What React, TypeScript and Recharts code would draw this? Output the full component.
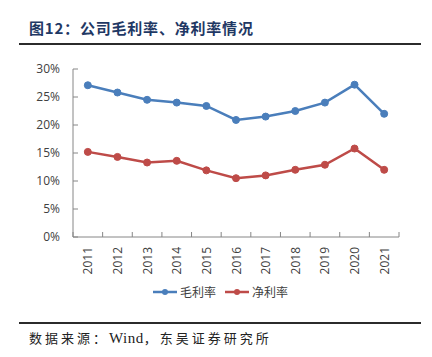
import React from "react";
import { LineChart, Line, XAxis, YAxis } from "recharts";

const years = ["2011", "2012", "2013", "2014", "2015", "2016", "2017", "2018", "2019", "2020", "2021"];
const grossMargin = [27.1, 25.8, 24.5, 24.0, 23.4, 20.9, 21.5, 22.5, 24.0, 27.2, 22.0];
const netMargin = [15.2, 14.3, 13.3, 13.6, 11.9, 10.5, 11.0, 12.0, 12.9, 15.8, 12.0];
const yTicks = [0, 5, 10, 15, 20, 25, 30];
const seriesNames = ["毛利率", "净利率"];
const seriesColors = ["#4A7EBB", "#BE4B48"];

const data = years.map((y, i) => ({ year: y, gross: grossMargin[i], net: netMargin[i] }));

const W = 432;
const H = 357;
const PLOT_LEFT = 73;
const PLOT_RIGHT = 33;
const BAND = (W - PLOT_LEFT - PLOT_RIGHT) / years.length;
const AXIS_COLOR = "#868686";
const TEXT_COLOR = "#404040";
const FONT = "'Open Sans', 'Noto Sans CJK SC', sans-serif";

const XTick = (props: any) => {
  const { x, y, payload, index } = props;
  const half = BAND / 2;
  return (
    <g>
      <line x1={x - half} x2={x - half} y1={y} y2={y - 5} stroke={AXIS_COLOR} strokeWidth={1} />
      {index === years.length - 1 && (
        <line x1={x + half} x2={x + half} y1={y} y2={y - 5} stroke={AXIS_COLOR} strokeWidth={1} />
      )}
      <text
        x={0}
        y={0}
        transform={`translate(${x + 4.5},${y + 10}) rotate(-90)`}
        textAnchor="end"
        fontSize={12}
        fill={TEXT_COLOR}
        fontFamily={FONT}
      >
        {payload.value}
      </text>
    </g>
  );
};

export default function App() {
  return (
    <div style={{ position: "absolute", left: 0, top: 0, width: W, height: H, background: "#fff", fontFamily: FONT }}>
      <div
        style={{
          position: "absolute",
          left: 29,
          top: 18,
          fontSize: 15,
          fontWeight: 700,
          letterSpacing: 0.8,
          color: "#1F3864",
          fontFamily: "'Noto Sans CJK SC', sans-serif",
          lineHeight: "20px",
          whiteSpace: "nowrap",
        }}
      >
        图12：公司毛利率、净利率情况
      </div>
      <div style={{ position: "absolute", left: 19, top: 43, width: 402, height: 2, background: "#2b2b2b" }} />
      <div style={{ position: "absolute", left: 0, top: 0 }}>
        <LineChart width={W} height={H} data={data} margin={{ top: 69, right: PLOT_RIGHT, left: 0, bottom: 80 }}>
          <XAxis
            dataKey="year"
            height={40}
            interval={0}
            padding={{ left: BAND / 2, right: BAND / 2 }}
            tickLine={false}
            tickSize={0}
            tickMargin={0}
            axisLine={{ stroke: AXIS_COLOR, strokeWidth: 1 }}
            tick={<XTick />}
          />
          <YAxis
            width={PLOT_LEFT}
            domain={[0, 30]}
            ticks={yTicks}
            interval={0}
            tickSize={-5}
            tickMargin={18}
            tickFormatter={(v: number) => `${v}%`}
            axisLine={{ stroke: AXIS_COLOR, strokeWidth: 1 }}
            tickLine={{ stroke: AXIS_COLOR, strokeWidth: 1 }}
            tick={{ fontSize: 12, fill: TEXT_COLOR, fontFamily: FONT }}
          />
          <Line
            dataKey="gross"
            name={seriesNames[0]}
            stroke={seriesColors[0]}
            strokeWidth={2.5}
            dot={{ r: 3.5, fill: seriesColors[0], stroke: seriesColors[0], strokeWidth: 1 }}
            isAnimationActive={false}
          />
          <Line
            dataKey="net"
            name={seriesNames[1]}
            stroke={seriesColors[1]}
            strokeWidth={2.5}
            dot={{ r: 3.5, fill: seriesColors[1], stroke: seriesColors[1], strokeWidth: 1 }}
            isAnimationActive={false}
          />
        </LineChart>
      </div>
      <div
        style={{
          position: "absolute",
          left: 153,
          top: 283,
          display: "flex",
          alignItems: "center",
          fontSize: 12,
          color: TEXT_COLOR,
          lineHeight: "18px",
          fontFamily: "'Noto Sans CJK SC', sans-serif",
        }}
      >
        {seriesNames.map((n, i) => (
          <div key={n} style={{ display: "flex", alignItems: "center", marginRight: i === 0 ? 9 : 0 }}>
            <svg width={24} height={10} style={{ marginRight: 3 }}>
              <line x1={0} x2={24} y1={5} y2={5} stroke={seriesColors[i]} strokeWidth={2.5} />
              <circle cx={12} cy={5} r={3} fill={seriesColors[i]} />
            </svg>
            <span>{n}</span>
          </div>
        ))}
      </div>
      <div style={{ position: "absolute", left: 19, top: 322, width: 402, height: 2, background: "#2b2b2b" }} />
      <div
        style={{
          position: "absolute",
          left: 29,
          top: 328,
          fontSize: 13,
          letterSpacing: 3,
          color: "#222",
          fontFamily: "'Noto Sans CJK SC', 'Liberation Serif', serif",
          lineHeight: "20px",
          whiteSpace: "nowrap",
        }}
      >
        数据来源：<span style={{ fontFamily: "'Liberation Serif', serif", fontSize: 15, letterSpacing: 0.5 }}>Wind</span>，东吴证券研究所
      </div>
    </div>
  );
}
